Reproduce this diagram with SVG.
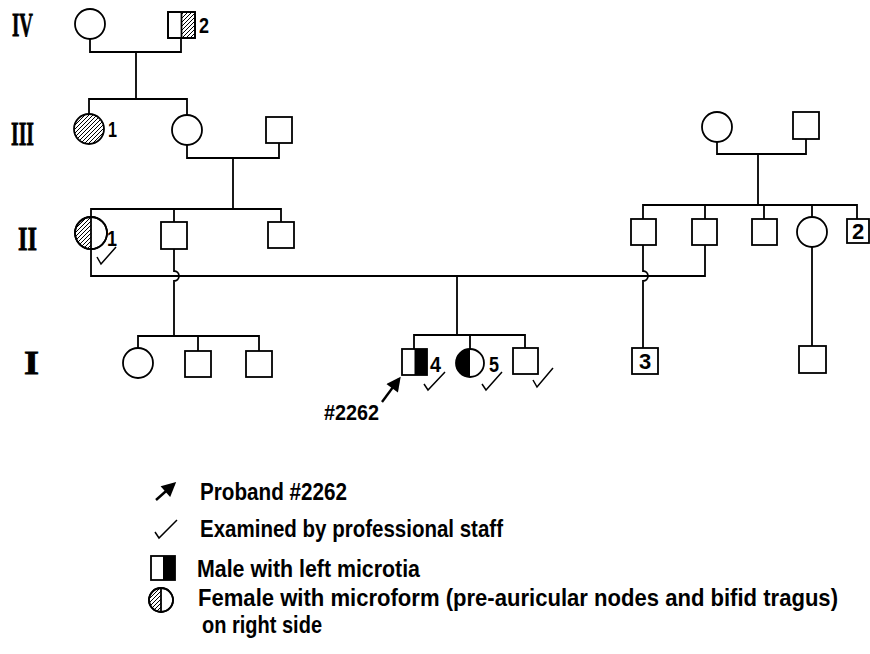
<svg xmlns="http://www.w3.org/2000/svg" width="870" height="654" viewBox="0 0 870 654">
<defs>
<pattern id="hatch" patternUnits="userSpaceOnUse" width="4" height="4">
<path d="M-1,1 l2,-2 M0,4 l4,-4 M3,5 l2,-2" stroke="#000" stroke-width="1"/>
</pattern>
<marker id="arr" viewBox="0 0 10 10" refX="8" refY="5" markerWidth="6.5" markerHeight="6" orient="auto" markerUnits="strokeWidth">
<path d="M0,0 L10,5 L0,10 z" fill="#000"/>
</marker>
<clipPath id="c-IV2"><rect x="181.5" y="12" width="14" height="26"/></clipPath>
<clipPath id="c-II1"><rect x="74" y="216" width="17" height="34"/></clipPath>
<clipPath id="c-I5"><rect x="455" y="348" width="15" height="30"/></clipPath>
<clipPath id="c-L4"><rect x="148" y="587" width="13" height="26"/></clipPath>
</defs>
<style>
.ln{fill:none;stroke:#000;stroke-width:1.8}
.nd{fill:#fff;stroke:#000;stroke-width:1.8}
.ck{fill:none;stroke:#000;stroke-width:1.5}
.rn{font-family:"Liberation Serif",serif;font-weight:bold;font-size:34px;fill:#000;stroke:#000;stroke-width:0.8}
.lb{font-family:"Liberation Sans",sans-serif;font-weight:bold;font-size:22px;fill:#000}
.lg{font-family:"Liberation Sans",sans-serif;font-weight:bold;font-size:24px;fill:#000}
</style>
<rect width="870" height="654" fill="#fff"/>

<g id="generations">
<text class="rn" x="12" y="36" textLength="21" lengthAdjust="spacingAndGlyphs">IV</text>
<text class="rn" x="11" y="145" textLength="23" lengthAdjust="spacingAndGlyphs">III</text>
<text class="rn" x="18" y="250" textLength="19" lengthAdjust="spacingAndGlyphs">II</text>
<text class="rn" x="24" y="374" textLength="15" lengthAdjust="spacingAndGlyphs">I</text>
</g>

<g id="connectors">
<path class="ln" d="M90,39 V52 H181 V38"/>
<path class="ln" d="M136,52 V99"/>
<path class="ln" d="M89,114 V99 H187 V115"/>
<path class="ln" d="M187,145 V158 H279 V143"/>
<path class="ln" d="M233,158 V209"/>
<path class="ln" d="M91,217 V209 H281 V222"/>
<path class="ln" d="M174,209 V222"/>
<path class="ln" d="M717,142 V154 H806 V139"/>
<path class="ln" d="M758,154 V205"/>
<path class="ln" d="M643,219 V205 H857 V219"/>
<path class="ln" d="M705,205 V219 M764,205 V219 M812,205 V217"/>
<path class="ln" d="M91,249 V276 H705 V245"/>
<path class="ln" d="M457,276 V335"/>
<path class="ln" d="M414,349 V335 H525 V348 M470,335 V349"/>
<path class="ln" d="M174,249 V271 A5,5 0 0 1 174,281 V336"/>
<path class="ln" d="M138,348 V336 H259 V351 M198,336 V351"/>
<path class="ln" d="M643,245 V271 A5,5 0 0 1 643,281 V348"/>
<path class="ln" d="M812,247 V346"/>
</g>

<g id="IV-1"><circle class="nd" cx="90" cy="24" r="15"/></g>
<g id="IV-2">
<rect class="nd" x="168" y="12" width="27" height="26"/>
<rect x="168" y="12" width="27" height="26" fill="url(#hatch)" clip-path="url(#c-IV2)"/>
<path class="ln" d="M181.5,12 V38"/>
<rect class="ln" x="168" y="12" width="27" height="26"/>
<text class="lb" x="199" y="33" textLength="10" lengthAdjust="spacingAndGlyphs">2</text>
</g>

<g id="III-1">
<circle cx="89" cy="129" r="15" fill="url(#hatch)" stroke="#000" stroke-width="1.8"/>
<text class="lb" x="108" y="137" textLength="9" lengthAdjust="spacingAndGlyphs">1</text>
</g>
<g id="III-2"><circle class="nd" cx="187" cy="130" r="15"/></g>
<g id="III-3"><rect class="nd" x="266" y="117" width="26" height="26"/></g>
<g id="III-4"><circle class="nd" cx="717" cy="127" r="15"/></g>
<g id="III-5"><rect class="nd" x="793" y="112" width="26" height="27"/></g>

<g id="II-1">
<circle class="nd" cx="91" cy="233" r="16"/>
<circle cx="91" cy="233" r="16" fill="url(#hatch)" clip-path="url(#c-II1)"/>
<path class="ln" d="M91,217 V249"/>
<circle class="ln" cx="91" cy="233" r="16"/>
<text class="lb" x="107" y="246" textLength="10" lengthAdjust="spacingAndGlyphs">1</text>
<path class="ck" d="M97,257 L101,264 L116,247"/>
</g>
<g id="II-2"><rect class="nd" x="161" y="222" width="26" height="27"/></g>
<g id="II-3"><rect class="nd" x="268" y="222" width="26" height="26"/></g>
<g id="II-4"><rect class="nd" x="631" y="219" width="25" height="26"/></g>
<g id="II-5"><rect class="nd" x="692" y="219" width="25" height="26"/></g>
<g id="II-6"><rect class="nd" x="752" y="219" width="25" height="26"/></g>
<g id="II-7"><circle class="nd" cx="812" cy="232" r="15"/></g>
<g id="II-8">
<rect class="nd" x="847" y="219" width="22" height="24"/>
<text class="lb" x="858" y="239" text-anchor="middle">2</text>
</g>

<g id="I-1"><circle class="nd" cx="138" cy="363" r="15"/></g>
<g id="I-2"><rect class="nd" x="185" y="351" width="26" height="26"/></g>
<g id="I-3"><rect class="nd" x="246" y="351" width="26" height="26"/></g>
<g id="I-4">
<rect class="nd" x="402" y="349" width="25" height="26"/>
<rect x="414.5" y="349" width="12.5" height="26" fill="#000"/>
<text class="lb" x="430" y="372" textLength="11" lengthAdjust="spacingAndGlyphs">4</text>
<path class="ck" d="M424,384 L428,390 L445,372"/>
</g>
<g id="I-5">
<circle class="nd" cx="470" cy="363" r="14"/>
<circle cx="470" cy="363" r="14" fill="#000" clip-path="url(#c-I5)"/>
<text class="lb" x="489" y="372" textLength="10" lengthAdjust="spacingAndGlyphs">5</text>
<path class="ck" d="M482,384 L486,390 L502,372"/>
</g>
<g id="I-6">
<rect class="nd" x="513" y="348" width="25" height="26"/>
<path class="ck" d="M533,380 L537,387 L553,368"/>
</g>
<g id="I-7">
<rect class="nd" x="632" y="348" width="26" height="26"/>
<text class="lb" x="645" y="369" text-anchor="middle">3</text>
</g>
<g id="I-8"><rect class="nd" x="799" y="346" width="27" height="27"/></g>

<g id="proband">
<path d="M382,402 L399,379" stroke="#000" stroke-width="2.4" marker-end="url(#arr)"/>
<text class="lb" x="324" y="420" textLength="55" lengthAdjust="spacingAndGlyphs">#2262</text>
</g>

<g id="legend">
<path d="M156,500 L174,484" stroke="#000" stroke-width="2.4" marker-end="url(#arr)"/>
<text class="lg" x="200" y="500" textLength="147" lengthAdjust="spacingAndGlyphs">Proband #2262</text>
<path class="ck" d="M155,532 L159,538 L177,520"/>
<text class="lg" x="200" y="537" textLength="303" lengthAdjust="spacingAndGlyphs">Examined by professional staff</text>
<rect class="nd" x="151" y="556" width="24" height="24"/>
<rect x="163" y="556" width="12" height="24" fill="#000"/>
<text class="lg" x="197" y="577" textLength="223" lengthAdjust="spacingAndGlyphs">Male with left microtia</text>
<circle class="nd" cx="161" cy="600" r="12"/>
<circle cx="161" cy="600" r="12" fill="url(#hatch)" clip-path="url(#c-L4)"/>
<path class="ln" d="M161,588 V612"/>
<circle class="ln" cx="161" cy="600" r="12"/>
<text class="lg" transform="translate(198,606) scale(0.8,1)" x="0" y="0" textLength="800" lengthAdjust="spacingAndGlyphs">Female with microform (pre-auricular nodes and bifid tragus)</text>
<text class="lg" x="202" y="633" textLength="120" lengthAdjust="spacingAndGlyphs">on right side</text>
</g>
</svg>
